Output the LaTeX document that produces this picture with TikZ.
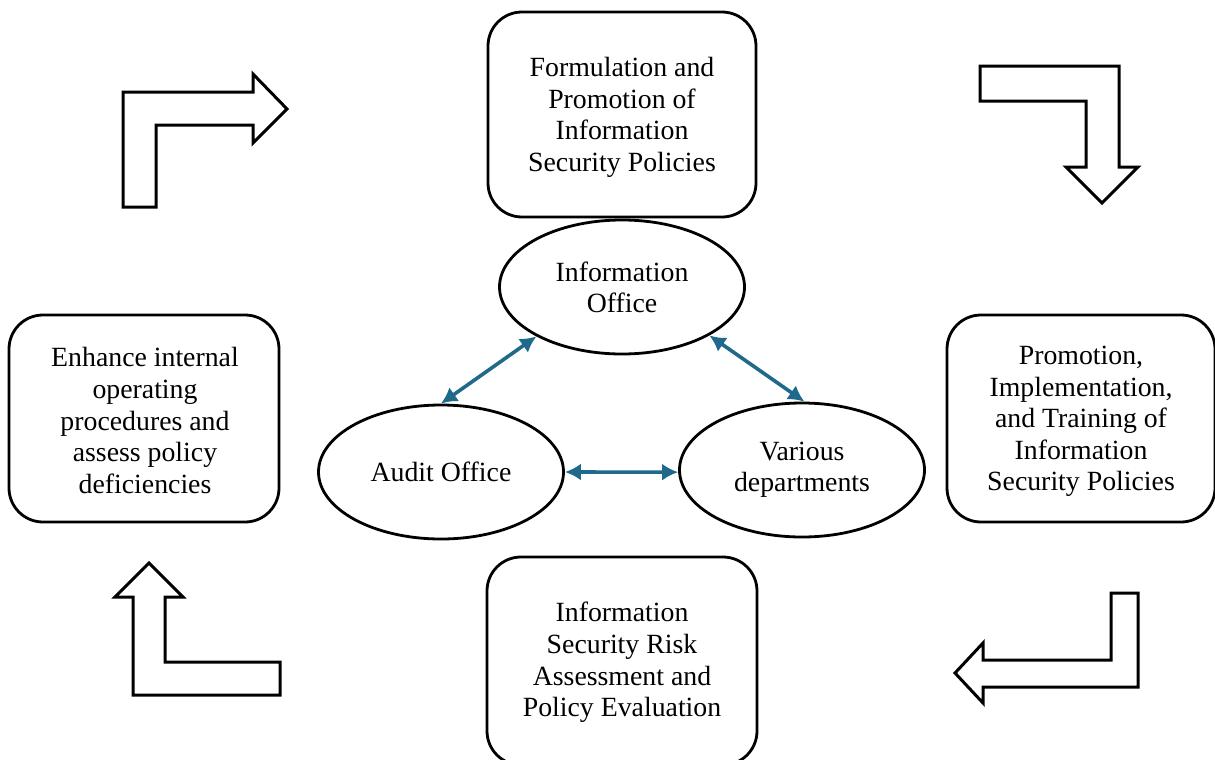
\documentclass[tikz,border=0pt]{standalone}
\usepackage{fontspec}
\setmainfont{Liberation Serif}
\usetikzlibrary{shapes.geometric,arrows.meta}
\definecolor{teal1}{HTML}{1F6A8A}
\tikzset{
  stagebox/.style={draw=black, line width=1.4pt, rounded corners=17pt, inner sep=0pt},
  stagetext/.style={align=center, inner sep=0pt, font=\fontsize{13.9}{15.8}\selectfont},
  unit/.style={draw=black, line width=1.4pt, ellipse, inner sep=0pt, align=center,
    minimum width=122.5pt, minimum height=67pt, font=\fontsize{13.9}{15.8}\selectfont},
  link/.style={draw=teal1, line width=1.8pt, {Latex[length=8pt,width=8.5pt]}-{Latex[length=8pt,width=8.5pt]}},
  blockarrow/.style={draw=black, line width=1.5pt, fill=white, miter limit=10}
}
\begin{document}
\begin{tikzpicture}[x=0.5pt,y=-0.5pt]
\clip (0,0) rectangle (1215,760);
\fill[white] (0,0) rectangle (1215,760);

% stage boxes
\node[stagebox, minimum width=134pt, minimum height=102.5pt] (top) at (622,114.5) {};
\node[stagetext] (toptext) at (622,117.5)
  {Formulation and\\Promotion of\\Information\\Security Policies};
\node[stagebox, minimum width=135pt, minimum height=103.5pt] (left) at (144,418.5) {};
\node[stagetext] (lefttext) at (145,420.5)
  {Enhance internal\\operating\\procedures and\\assess policy\\deficiencies};
\node[stagebox, minimum width=134pt, minimum height=103.5pt] (right) at (1081,418.5) {};
\node[stagetext] (righttext) at (1081,421.5)
  {Promotion,\\Implementation,\\and Training of\\Information\\Security Policies};
\node[stagebox, minimum width=135pt, minimum height=104pt] (bottom) at (622,661) {};
\node[stagetext] (bottomtext) at (622,662.5)
  {Information\\Security Risk\\Assessment and\\Policy Evaluation};

% ellipses
\node[unit] (info) at (622,287) {\raisebox{-1pt}{\shortstack{Information\\[2.5pt]Office}}};
\node[unit] (audit) at (441,472) {Audit Office};
\node[unit] (various) at (802,470) {\raisebox{-1pt}{\shortstack{Various\\[2.5pt]departments}}};

% links
\draw[link] (audit.north) -- (info.210);
\draw[link] (info.331) -- (various.88);
\draw[link] (audit.east) -- (various.181);

% block arrows
\draw[blockarrow] (123,207) -- (123,92) -- (253,92) -- (253,74) -- (287,109) -- (253,143) -- (253,125) -- (156,125) -- (156,207) -- cycle;
\draw[blockarrow] (980,66) -- (1119,66) -- (1119,167) -- (1138,167) -- (1102,203) -- (1066,167) -- (1086,167) -- (1086,101) -- (980,101) -- cycle;
\draw[blockarrow] (1111,593) -- (1138,593) -- (1138,687) -- (983,687) -- (983,703) -- (955,673) -- (983,643) -- (983,660) -- (1111,660) -- cycle;
\draw[blockarrow] (133,695) -- (133,597) -- (115,597) -- (149,563) -- (183,597) -- (165,597) -- (165,662) -- (280,662) -- (280,695) -- cycle;
\end{tikzpicture}
\end{document}
